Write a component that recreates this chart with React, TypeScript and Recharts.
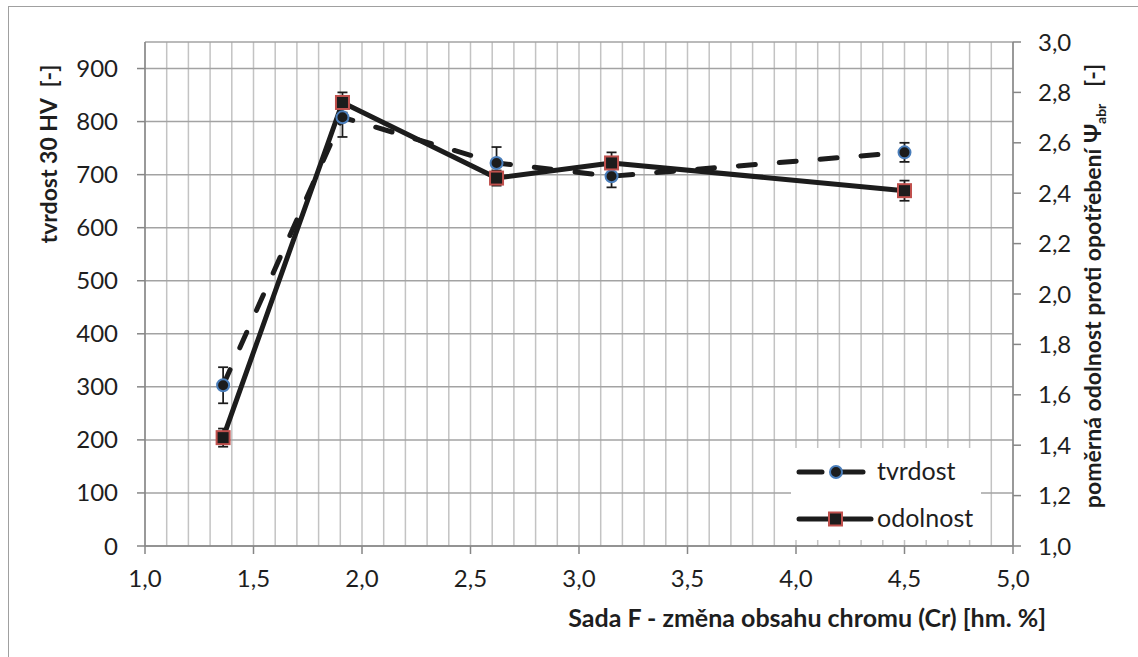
import React from 'react'
import {
  LineChart,
  Line,
  XAxis,
  YAxis,
  CartesianGrid,
  ErrorBar,
  Legend,
  Label
} from 'recharts'

// obsah chromu [hm. %]
const chromium = [1.36, 1.91, 2.62, 3.15, 4.5]
// tvrdost HV 30 a směrodatná odchylka
const hardness = [303, 808, 722, 697, 742]
const hardnessErr = [34, 37, 30, 21, 18]
// poměrná odolnost proti opotřebení a odchylka
const resistance = [1.43, 2.76, 2.46, 2.52, 2.41]
const resistanceErr = [0.036, 0.04, 0.03, 0.042, 0.04]

const xTicks = [1, 1.5, 2, 2.5, 3, 3.5, 4, 4.5, 5]
const hvTicks = [0, 100, 200, 300, 400, 500, 600, 700, 800, 900]
const psiTicks = [1, 1.2, 1.4, 1.6, 1.8, 2, 2.2, 2.4, 2.6, 2.8, 3]
// jemná mřížka po 0,1
const minorTicks = Array.from({ length: 41 }, (_, i) => Math.round((1 + i / 10) * 10) / 10)

const data = chromium.map((x, i) => ({
  x,
  tvrdost: hardness[i],
  tvrdostErr: hardnessErr[i],
  odolnost: resistance[i],
  odolnostErr: resistanceErr[i]
}))

const FONT = 'Lato, "Open Sans", sans-serif'
const TEXT = '#1e1e1e'
const AXIS = '#868686'
const LINE = '#1c1c1c'
const BLUE = '#4a7ebb'
const RED = '#c0504d'

const comma = (v: number) => v.toFixed(1).replace('.', ',')

const SquareDot = (props: any) => {
  const { cx, cy, index } = props
  if (cx == null || cy == null) return null
  return (
    <rect
      key={`sq-${index}`}
      x={cx - 6.5}
      y={cy - 6.5}
      width={13}
      height={13}
      fill={LINE}
      stroke={RED}
      strokeWidth={2}
      strokeDasharray="none"
    />
  )
}

const LegendBox = () => (
  <div style={{ background: '#fff', width: 190, height: 92 }}>
    <svg width={190} height={92} style={{ display: 'block' }}>
      <line x1={8} y1={24} x2={31} y2={24} stroke={LINE} strokeWidth={5} strokeLinecap="round" />
      <line x1={45} y1={24} x2={72} y2={24} stroke={LINE} strokeWidth={5} strokeLinecap="round" />
      <circle cx={45} cy={24} r={6} fill={LINE} stroke={BLUE} strokeWidth={2} />
      <text x={86} y={32} fontFamily={FONT} fontSize={25} fill={TEXT}>tvrdost</text>
      <line x1={8} y1={71} x2={80} y2={71} stroke={LINE} strokeWidth={5} strokeLinecap="round" />
      <rect x={38} y={64.5} width={13} height={13} fill={LINE} stroke={RED} strokeWidth={2} />
      <text x={86} y={79} fontFamily={FONT} fontSize={25} fill={TEXT}>odolnost</text>
    </svg>
  </div>
)

export default function App() {
  const tick = { fill: TEXT, fontSize: 24, fontFamily: FONT }
  return (
    <div style={{ position: 'absolute', left: 0, top: 0, width: 1138, height: 657, background: '#fff' }}>
      <div
        style={{
          position: 'absolute',
          left: 8,
          top: 6,
          width: 1200,
          height: 700,
          borderLeft: '1.5px solid #a0a0a0',
          borderTop: '1.5px solid #a0a0a0'
        }}
      />
      <LineChart
        width={1138}
        height={657}
        data={data}
        margin={{ top: 42, right: 45, bottom: 71, left: 65 }}
        style={{ position: 'absolute', left: 0, top: 0 }}
      >
        <XAxis
          xAxisId="minor"
          type="number"
          dataKey="x"
          domain={[1, 5]}
          ticks={minorTicks}
          interval={0}
          height={40}
          hide
        />
        <CartesianGrid xAxisId="minor" yAxisId="hv" horizontal={false} stroke="#c3c3c3" strokeWidth={1.5} />
        <CartesianGrid xAxisId="main" yAxisId="hv" vertical={false} stroke="#a3a3a3" strokeWidth={1.5} />
        <XAxis
          xAxisId="main"
          type="number"
          dataKey="x"
          domain={[1, 5]}
          ticks={xTicks}
          tickFormatter={comma}
          tick={tick}
          tickSize={8}
          tickMargin={16}
          height={40}
          axisLine={{ stroke: AXIS, strokeWidth: 1.5 }}
          tickLine={{ stroke: AXIS, strokeWidth: 1.5 }}
          interval={0}
        >
          <Label
            content={() => (
              <text x={1046} y={627} textAnchor="end" fontFamily={FONT} fontSize={25} fontWeight="bold" fill={TEXT}>
                Sada F - změna obsahu chromu (Cr) [hm. %]
              </text>
            )}
          />
        </XAxis>
        <YAxis
          yAxisId="hv"
          domain={[0, 950]}
          ticks={hvTicks}
          tick={tick}
          tickSize={8}
          tickMargin={19}
          width={80}
          axisLine={{ stroke: AXIS, strokeWidth: 1.5 }}
          tickLine={{ stroke: AXIS, strokeWidth: 1.5 }}
          interval={0}
        >
          <Label
            content={() => (
              <text
                transform="translate(57, 154) rotate(-90)"
                textAnchor="middle"
                fontFamily={FONT}
                fontSize={23}
                fontWeight="bold"
                fill={TEXT}
              >
                {'tvrdost 30 HV\u00a0\u00a0[-]'}
              </text>
            )}
          />
        </YAxis>
        <YAxis
          yAxisId="psi"
          orientation="right"
          domain={[1, 3]}
          ticks={psiTicks}
          tickFormatter={comma}
          tick={tick}
          tickSize={8}
          tickMargin={17}
          width={80}
          axisLine={{ stroke: AXIS, strokeWidth: 1.5 }}
          tickLine={{ stroke: AXIS, strokeWidth: 1.5 }}
          interval={0}
        >
          <Label
            content={() => (
              <text
                transform="translate(1101, 286) rotate(-90)"
                textAnchor="middle"
                fontFamily={FONT}
                fontSize={23}
                fontWeight="bold"
                fill={TEXT}
              >
                {'poměrná odolnost proti opotřebení Ψ'}
                <tspan fontSize={14} dy={5}>abr</tspan>
                <tspan dy={-5}>{'\u00a0\u00a0\u00a0[-]'}</tspan>
              </text>
            )}
          />
        </YAxis>
        <Line
          xAxisId="main"
          yAxisId="hv"
          dataKey="tvrdost"
          name="tvrdost"
          stroke={LINE}
          strokeWidth={5}
          strokeDasharray="17 24"
          strokeLinecap="round"
          dot={{ r: 6, fill: LINE, stroke: BLUE, strokeWidth: 2, strokeDasharray: 'none' }}
          isAnimationActive={false}
        >
          <ErrorBar dataKey="tvrdostErr" direction="y" width={5} stroke={LINE} strokeWidth={1.75} />
        </Line>
        <Line
          xAxisId="main"
          yAxisId="psi"
          dataKey="odolnost"
          name="odolnost"
          stroke={LINE}
          strokeWidth={5}
          strokeLinejoin="round"
          dot={SquareDot}
          isAnimationActive={false}
        >
          <ErrorBar dataKey="odolnostErr" direction="y" width={5} stroke={LINE} strokeWidth={1.75} />
        </Line>
        <Legend
          layout="horizontal"
          verticalAlign="middle"
          align="center"
          content={<LegendBox />}
          wrapperStyle={{ left: 791, top: 448, width: 190, height: 92 }}
        />
      </LineChart>
    </div>
  )
}
